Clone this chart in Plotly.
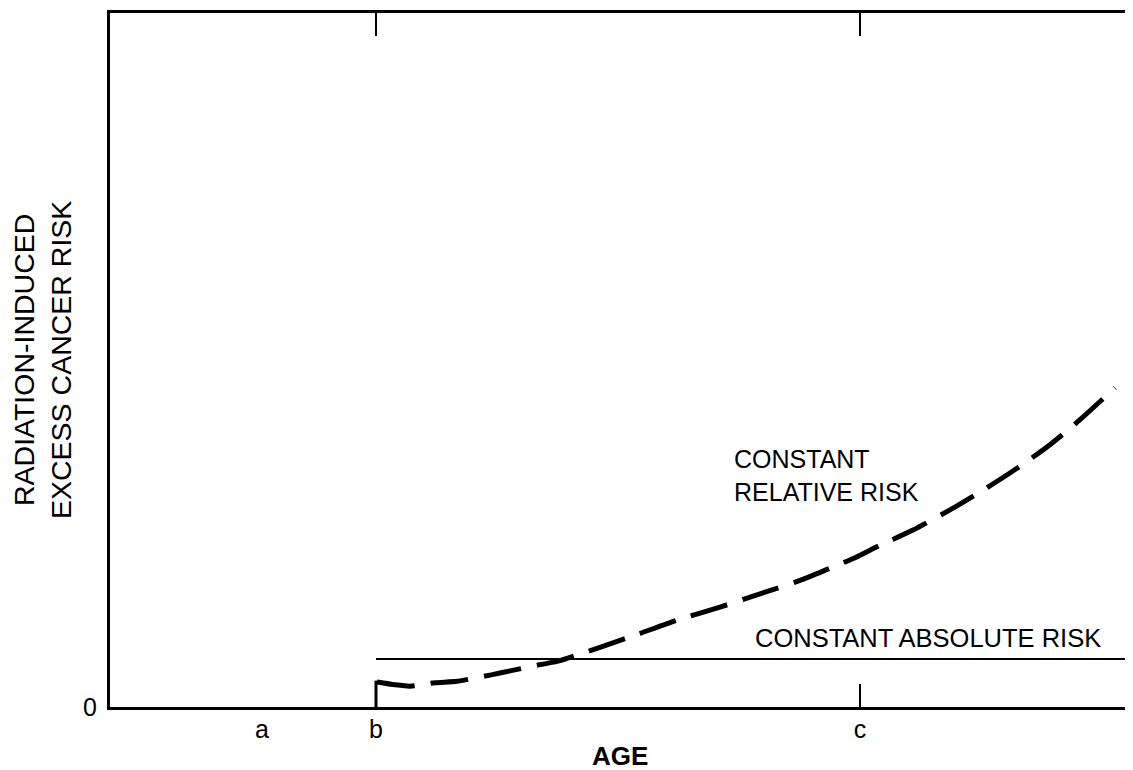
import plotly.graph_objects as go

# Data (arbitrary units)
tick_labels = ["a", "b", "c"]
tick_positions = [15.2, 26.6, 75.0]
absolute_x = [26.6, 102.0]
absolute_y = [6.9, 6.9]
onset_x = [26.6, 26.6]
onset_y = [0.0, 3.8]
relative_x = [26.7, 28.5, 30.0, 32.5, 34.7, 38.0, 40.0, 43.0, 44.8, 46.7, 49.0, 52.8, 56.7,
              61.0, 65.0, 69.3, 72.5, 74.5, 77.0, 80.3, 84.0, 87.7, 90.7, 94.0, 97.0, 100.5]
relative_y = [3.6, 3.2, 3.0, 3.5, 3.7, 4.6, 5.2, 6.1, 6.6, 7.5, 8.6, 10.5, 12.5,
              14.4, 16.3, 18.4, 20.3, 21.5, 23.3, 25.5, 28.4, 31.6, 34.4, 37.8, 41.4, 46.0]

FONT = "Liberation Sans, Arial, sans-serif"
PAGE_OFFSET = 8  # default body margin of the html page

fig = go.Figure()
fig.add_trace(go.Scatter(x=absolute_x, y=absolute_y, mode="lines",
                         line=dict(color="black", width=2), showlegend=False))
fig.add_trace(go.Scatter(x=onset_x, y=onset_y, mode="lines",
                         line=dict(color="black", width=3), showlegend=False))
fig.add_trace(go.Scatter(x=relative_x, y=relative_y, mode="lines",
                         line=dict(color="black", width=5, dash="38px,16px",
                                   shape="spline", smoothing=0.6),
                         showlegend=False))
# invisible trace to activate xaxis2 for the tick marks
fig.add_trace(go.Scatter(x=[tick_positions[1]], y=[0], xaxis="x2", mode="markers",
                         marker=dict(opacity=0), showlegend=False, hoverinfo="skip"))

fig.add_annotation(x=64.3, y=10.0, xref="x", yref="y", text="CONSTANT ABSOLUTE RISK",
                   showarrow=False, xanchor="left", yanchor="middle",
                   font=dict(family=FONT, size=25.5, color="black"))
fig.add_annotation(x=62.2, y=33.3, xref="x", yref="y", text="CONSTANT<br>RELATIVE RISK",
                   showarrow=False, xanchor="left", yanchor="middle", align="left",
                   font=dict(family=FONT, size=25, color="black"))
# axis titles
fig.add_annotation(x=0, y=0.5, xref="paper", yref="paper", xshift=-68,
                   text="RADIATION-INDUCED<br>EXCESS CANCER RISK", textangle=-90,
                   showarrow=False, xanchor="center", yanchor="middle",
                   font=dict(family=FONT, size=28.5, color="black"))
fig.add_annotation(x=0.5, y=0, xref="paper", yref="paper", yshift=-49,
                   text="<b>AGE</b>", showarrow=False, xanchor="center", yanchor="middle",
                   font=dict(family=FONT, size=26, color="black"))

fig.update_layout(
    width=1133 - PAGE_OFFSET, height=770 - PAGE_OFFSET,
    margin=dict(l=110 - PAGE_OFFSET, r=3, t=13 - PAGE_OFFSET, b=63),
    plot_bgcolor="white", paper_bgcolor="white",
    font=dict(family=FONT, size=25, color="black"),
    xaxis=dict(range=[0, 102], tickvals=tick_positions, ticktext=tick_labels,
               ticks="", showgrid=False, zeroline=False, automargin=False,
               showline=True, linecolor="black", linewidth=3, mirror=True,
               ticklabelstandoff=-2),
    xaxis2=dict(range=[0, 102], overlaying="x", side="bottom",
                tickvals=[tick_positions[1], tick_positions[2]],
                ticks="inside", ticklen=23, tickwidth=2, tickcolor="black",
                mirror="ticks", showticklabels=False, showgrid=False,
                zeroline=False, showline=False, automargin=False),
    yaxis=dict(range=[0, 100], tickvals=[0], ticktext=["0"], ticks="",
               showgrid=False, zeroline=False, automargin=False,
               showline=True, linecolor="black", linewidth=3, mirror=True,
               ticklabelstandoff=5),
)

fig.write_html("out.html")
